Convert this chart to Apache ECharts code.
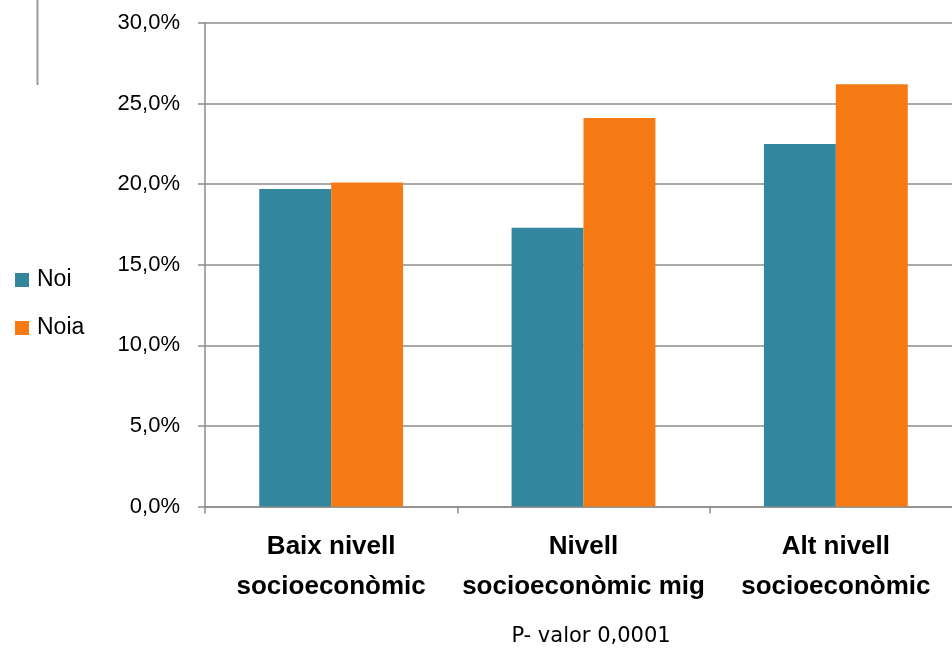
<!DOCTYPE html>
<html>
<head>
<meta charset="utf-8">
<script src="https://cdn.jsdelivr.net/npm/echarts@6/dist/echarts.min.js"></script>
<style>
html,body{margin:0;padding:0;background:#fff;}
#chart{width:952px;height:648px;}
</style>
</head>
<body>
<div id="chart"></div>
<script>
const categories = ['Baix nivell\nsocioeconòmic', 'Nivell\nsocioeconòmic mig', 'Alt nivell\nsocioeconòmic'];
const seriesNames = ['Noi', 'Noia'];
const noiValues = [19.7, 17.3, 22.5];
const noiaValues = [20.1, 24.1, 26.2];
const yTicks = [0, 5, 10, 15, 20, 25, 30];
const footnote = 'P- valor 0,0001';

const chart = echarts.init(document.getElementById('chart'));
const gridCol = '#8c8c8c';
chart.setOption({
  animation: false,
  backgroundColor: '#ffffff',
  grid: { left: 205, top: 23, width: 757, bottom: 141.5, containLabel: false, outerBoundsMode: 'none' },
  legend: {
    orient: 'vertical',
    left: 15,
    top: 266.5,
    padding: 0,
    itemWidth: 14,
    itemHeight: 14,
    itemGap: 21,
    icon: 'rect',
    data: seriesNames,
    textStyle: { fontFamily: 'Liberation Sans', fontSize: 23, color: '#000', lineHeight: 24, padding: [3, 0, 0, 3] }
  },
  xAxis: {
    type: 'category',
    data: categories,
    axisLine: { show: true, lineStyle: { color: gridCol, width: 1.5 } },
    axisTick: { show: true, length: 7, lineStyle: { color: gridCol, width: 1.5 } },
    axisLabel: {
      fontFamily: 'Liberation Sans', fontWeight: 'bold', fontSize: 26, color: '#000',
      lineHeight: 40, margin: 20, interval: 0
    }
  },
  yAxis: {
    type: 'value',
    min: yTicks[0],
    max: yTicks[yTicks.length - 1],
    interval: yTicks[1] - yTicks[0],
    axisLine: { show: true, lineStyle: { color: gridCol, width: 1.5 } },
    axisTick: { show: true, length: 7, lineStyle: { color: gridCol, width: 1.5 } },
    splitLine: { show: true, lineStyle: { color: gridCol, width: 1.5 } },
    axisLabel: {
      fontFamily: 'Liberation Sans', fontSize: 22, color: '#000', margin: 25,
      formatter: v => v.toFixed(1).replace('.', ',') + '%'
    }
  },
  series: [
    { name: seriesNames[0], type: 'bar', data: noiValues, barGap: '0%', barCategoryGap: '43%', itemStyle: { color: '#32879e' } },
    { name: seriesNames[1], type: 'bar', data: noiaValues, barGap: '0%', barCategoryGap: '43%', itemStyle: { color: '#f57a13' } }
  ],
  graphic: [
    { type: 'line', shape: { x1: 37.5, y1: 0, x2: 37.5, y2: 85 }, style: { stroke: '#999', lineWidth: 2 } },
    { type: 'text', x: 591, y: 637, style: { text: footnote, fontFamily: 'DejaVu Sans', fontSize: 21, fill: '#000', align: 'center', verticalAlign: 'middle' } }
  ]
});
</script>
</body>
</html>
